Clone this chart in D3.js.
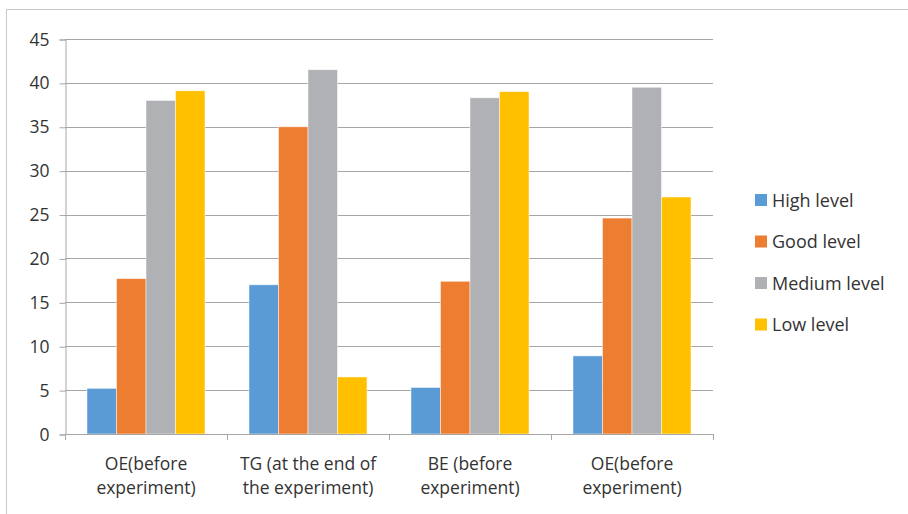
<!DOCTYPE html>
<html>
<head>
<meta charset="utf-8">
<script src="https://cdn.jsdelivr.net/npm/d3@7"></script>
<style>
  html, body { margin: 0; padding: 0; background: #fff; }
  svg { display: block; font-family: "Open Sans", "Noto Sans", sans-serif; }
</style>
</head>
<body>
<svg id="chart" width="908" height="514"></svg>
<script>
// Groups along the x axis (each label spans two lines)
const categories = [
  ["OE(before", "experiment)"],
  ["TG (at the end of", "the experiment)"],
  ["BE (before", "experiment)"],
  ["OE(before", "experiment)"]
];
const seriesNames = ["High level", "Good level", "Medium level", "Low level"];
const highLevel   = [5.2, 17.0, 5.3, 8.9];
const goodLevel   = [17.7, 35.0, 17.4, 24.6];
const mediumLevel = [38.0, 41.5, 38.3, 39.5];
const lowLevel    = [39.1, 6.5, 39.0, 27.0];
const yTicks = [0, 5, 10, 15, 20, 25, 30, 35, 40, 45];

const seriesValues = [highLevel, goodLevel, mediumLevel, lowLevel];
const colors = ["#5B9BD5", "#ED7D31", "#B0B1B4", "#FFC000"];
const textColor = "#333333";

const svg = d3.select("#chart");
const plotLeft = 65, plotRight = 713, plotTop = 39, plotBottom = 434;

// outer chart frame
svg.append("rect")
  .attr("x", 6.5).attr("y", 9.5)
  .attr("width", 908).attr("height", 520)
  .attr("fill", "none").attr("stroke", "#c8c8c8").attr("stroke-width", 1);

const x0 = d3.scaleBand()
  .domain(d3.range(categories.length))
  .range([plotLeft, plotRight])
  .paddingInner(0.2716)
  .paddingOuter(0.1358);
const x1 = d3.scaleBand()
  .domain(d3.range(seriesNames.length))
  .range([0, x0.bandwidth()]);
const y = d3.scaleLinear().domain([0, 45]).range([plotBottom, plotTop]);

// horizontal gridlines
svg.append("g")
  .selectAll("line")
  .data(yTicks.filter(d => d > 0))
  .join("line")
  .attr("x1", plotLeft).attr("x2", plotRight)
  .attr("y1", d => Math.round(y(d)) + 0.5)
  .attr("y2", d => Math.round(y(d)) + 0.5)
  .attr("stroke", "#a6a6a6").attr("stroke-width", 1);

// y axis
const yAxis = d3.axisLeft(y).tickValues(yTicks).tickSize(6).tickPadding(10);
const gy = svg.append("g").attr("transform", `translate(${plotLeft + 0.5},0.5)`).call(yAxis);
gy.select(".domain").attr("stroke", "#a6a6a6");
gy.selectAll(".tick line").attr("stroke", "#a6a6a6");
gy.selectAll(".tick text")
  .attr("fill", textColor)
  .style("font-size", "17.5px")
  .style("font-family", "'Open Sans', sans-serif");

// bars
const groups = svg.append("g")
  .selectAll("g")
  .data(categories.map((c, i) => i))
  .join("g")
  .attr("transform", i => `translate(${x0(i)},0)`);

groups.selectAll("rect")
  .data(i => seriesValues.map((vals, s) => ({ s, v: vals[i] })))
  .join("rect")
  .attr("x", d => x1(d.s))
  .attr("width", x1.bandwidth())
  .attr("y", d => y(d.v))
  .attr("height", d => y(0) - y(d.v))
  .attr("fill", d => colors[d.s])
  .attr("stroke", "#ffffff")
  .attr("stroke-opacity", 0.6)
  .attr("stroke-width", 0.8);

// x axis with ticks at group boundaries
svg.append("line")
  .attr("x1", plotLeft).attr("x2", plotRight)
  .attr("y1", plotBottom + 0.5).attr("y2", plotBottom + 0.5)
  .attr("stroke", "#a6a6a6");
const boundaries = d3.range(categories.length + 1).map(i => plotLeft + i * x0.step());
svg.append("g").selectAll("line")
  .data(boundaries)
  .join("line")
  .attr("x1", d => Math.round(d) + 0.5).attr("x2", d => Math.round(d) + 0.5)
  .attr("y1", plotBottom).attr("y2", plotBottom + 6)
  .attr("stroke", "#a6a6a6");

// category labels
const labels = svg.append("g")
  .selectAll("text")
  .data(categories.map((c, i) => ({ c, i })))
  .join("text")
  .attr("text-anchor", "middle")
  .attr("fill", textColor)
  .style("font-size", "17.5px");
labels.selectAll("tspan")
  .data(d => d.c.map((line, k) => ({ line, k, i: d.i })))
  .join("tspan")
  .attr("x", d => x0(d.i) + x0.bandwidth() / 2)
  .attr("y", d => 470 + d.k * 24)
  .text(d => d.line);

// legend
const legend = svg.append("g")
  .selectAll("g")
  .data(seriesNames.map((n, i) => ({ n, i })))
  .join("g")
  .attr("transform", d => `translate(755,${194 + d.i * 41.5})`);
legend.append("rect")
  .attr("width", 12).attr("height", 12)
  .attr("fill", d => colors[d.i]);
legend.append("text")
  .attr("x", 17).attr("y", 12.5)
  .attr("fill", textColor)
  .style("font-size", "18px")
  .text(d => d.n);
</script>
</body>
</html>
